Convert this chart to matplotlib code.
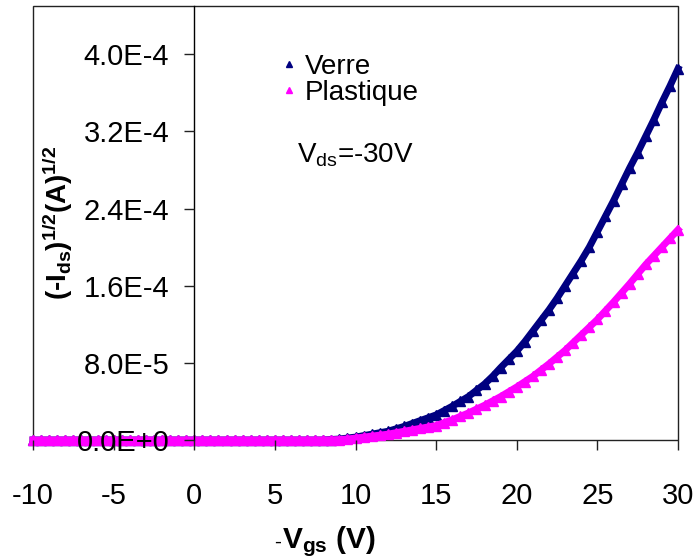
import matplotlib
matplotlib.use("Agg")
import matplotlib.pyplot as plt
from matplotlib.lines import Line2D
from matplotlib.patches import Rectangle

plt.rcParams['font.family'] = ['Liberation Sans', 'DejaVu Sans']
plt.rcParams['mathtext.fontset'] = 'custom'
plt.rcParams['mathtext.rm'] = 'Liberation Sans'
plt.rcParams['mathtext.it'] = 'Liberation Sans'
plt.rcParams['mathtext.bf'] = 'Liberation Sans:bold'

# -Vgs (V), 0.5 V steps
vgs = [-10.0, -9.5, -9.0, -8.5, -8.0, -7.5, -7.0, -6.5, -6.0, -5.5,
       -5.0, -4.5, -4.0, -3.5, -3.0, -2.5, -2.0, -1.5, -1.0, -0.5,
       0.0, 0.5, 1.0, 1.5, 2.0, 2.5, 3.0, 3.5, 4.0, 4.5,
       5.0, 5.5, 6.0, 6.5, 7.0, 7.5, 8.0, 8.5, 9.0, 9.5,
       10.0, 10.5, 11.0, 11.5, 12.0, 12.5, 13.0, 13.5, 14.0, 14.5,
       15.0, 15.5, 16.0, 16.5, 17.0, 17.5, 18.0, 18.5, 19.0, 19.5,
       20.0, 20.5, 21.0, 21.5, 22.0, 22.5, 23.0, 23.5, 24.0, 24.5,
       25.0, 25.5, 26.0, 26.5, 27.0, 27.5, 28.0, 28.5, 29.0, 29.5,
       30.0]

# sqrt(-Ids) in units of 1e-5 A^1/2
verre = [0.0, 0.0, 0.0, 0.0, 0.0, 0.0, 0.0, 0.0, 0.0, 0.0,
         0.0, 0.0, 0.0, 0.0, 0.0, 0.0, 0.0, 0.0, 0.0, 0.0,
         0.0, 0.0, 0.0, 0.0, 0.0, 0.0, 0.0, 0.0, 0.0, 0.0,
         0.0, 0.0, 0.0, 0.0, 0.0, 0.0, 0.0, 0.05, 0.1, 0.2,
         0.3, 0.45, 0.6, 0.75, 0.9, 1.15, 1.4, 1.7, 2.0, 2.3,
         2.6, 3.05, 3.5, 4.0, 4.5, 5.15, 5.8, 6.6, 7.5, 8.35,
         9.2, 10.2, 11.3, 12.4, 13.5, 14.7, 16.0, 17.3, 18.6, 20.0,
         21.6, 23.2, 24.8, 26.5, 28.2, 29.8, 31.5, 33.2, 35.0, 36.7,
         38.5]

plastique = [0.0, 0.0, 0.0, 0.0, 0.0, 0.0, 0.0, 0.0, 0.0, 0.0,
             0.0, 0.0, 0.0, 0.0, 0.0, 0.0, 0.0, 0.0, 0.0, 0.0,
             0.0, 0.0, 0.0, 0.0, 0.0, 0.0, 0.0, 0.0, 0.0, 0.0,
             0.0, 0.0, 0.0, 0.0, 0.0, 0.0, 0.0, 0.02, 0.05, 0.1,
             0.2, 0.3, 0.4, 0.5, 0.6, 0.75, 0.9, 1.05, 1.2, 1.35,
             1.5, 1.8, 2.1, 2.45, 2.8, 3.2, 3.6, 4.05, 4.5, 5.0,
             5.5, 6.05, 6.6, 7.25, 7.9, 8.6, 9.3, 10.1, 10.9, 11.7,
             12.5, 13.4, 14.3, 15.25, 16.2, 17.2, 18.2, 19.1, 20.0, 20.9,
             21.8]

series_names = ['Verre', 'Plastique']
series_colors = ['#000080', '#FF00FF']

xticks = [-10, -5, 0, 5, 10, 15, 20, 25, 30]
xtick_labels = ['-10', '-5', '0', '5', '10', '15', '20', '25', '30']
yticks = [0.0, 8.0e-5, 1.6e-4, 2.4e-4, 3.2e-4, 4.0e-4]
ytick_labels = ['0.0E+0', '8.0E-5', '1.6E-4', '2.4E-4', '3.2E-4', '4.0E-4']

fig = plt.figure(figsize=(6.95, 5.6), dpi=100)
ax = fig.add_axes([33/695, 1 - 440/560, 645/695, 434/560])
ax.set_axisbelow(False)

for name, vals, col in zip(series_names, [verre, plastique], series_colors):
    ax.plot(vgs, [v * 1e-5 for v in vals], color=col, lw=5, marker='^',
            ms=6.5, mec=col, mfc=col, clip_on=False, label=name, zorder=2)

ax.set_xlim(-10, 30)
ax.set_ylim(0, 4.5e-4)

ax.spines['left'].set_position(('data', 0))
ax.spines['top'].set_visible(False)
ax.spines['right'].set_visible(False)
ax.spines['bottom'].set_visible(False)
ax.spines['left'].set_color('black')
ax.spines['left'].set_linewidth(1)
ax.add_patch(Rectangle((0, 0), 1, 1, transform=ax.transAxes, fill=False,
                       edgecolor='#222222', lw=1, clip_on=False, zorder=0.5))

ax.set_xticks(xticks)
ax.set_xticklabels(xtick_labels)
ax.set_yticks(yticks)
ax.set_yticklabels(ytick_labels)
ax.tick_params(axis='x', direction='out', length=7.2, width=1, pad=23,
               labelsize=21, color='#222222')
ax.tick_params(axis='y', direction='out', length=7.2, width=1, pad=10.8,
               labelsize=21, color='#222222')

handles = [Line2D([], [], ls='none', marker='^', ms=5, color=c) for c in series_colors]
ax.legend(handles, series_names, loc='upper left', bbox_to_anchor=(0.382, 0.89),
          frameon=False, fontsize=20, handlelength=0.7, handletextpad=0.2,
          borderpad=0, borderaxespad=0, labelspacing=0.0)

ax.text(0.409, 0.657, r'V$_{\mathrm{ds}}$=-30V', transform=ax.transAxes,
        fontsize=20, ha='left', va='center')

fig.text(281/695, 1 - 548/560, '-', fontsize=15, ha='right', va='baseline')
fig.text(282/695, 1 - 548/560, r'$\mathbf{V_{gs}}$ (V)', fontweight='bold',
         fontsize=21.5, ha='left', va='baseline')

ax.text(0.039, 0.5, r'(-I$_{\mathbf{ds}}$)$^{\mathbf{1/2}}$(A)$^{\mathbf{1/2}}$',
        transform=ax.transAxes, fontweight='bold',
        rotation=90, fontsize=20, ha='center', va='center')

fig.savefig('out.png', dpi=100)
